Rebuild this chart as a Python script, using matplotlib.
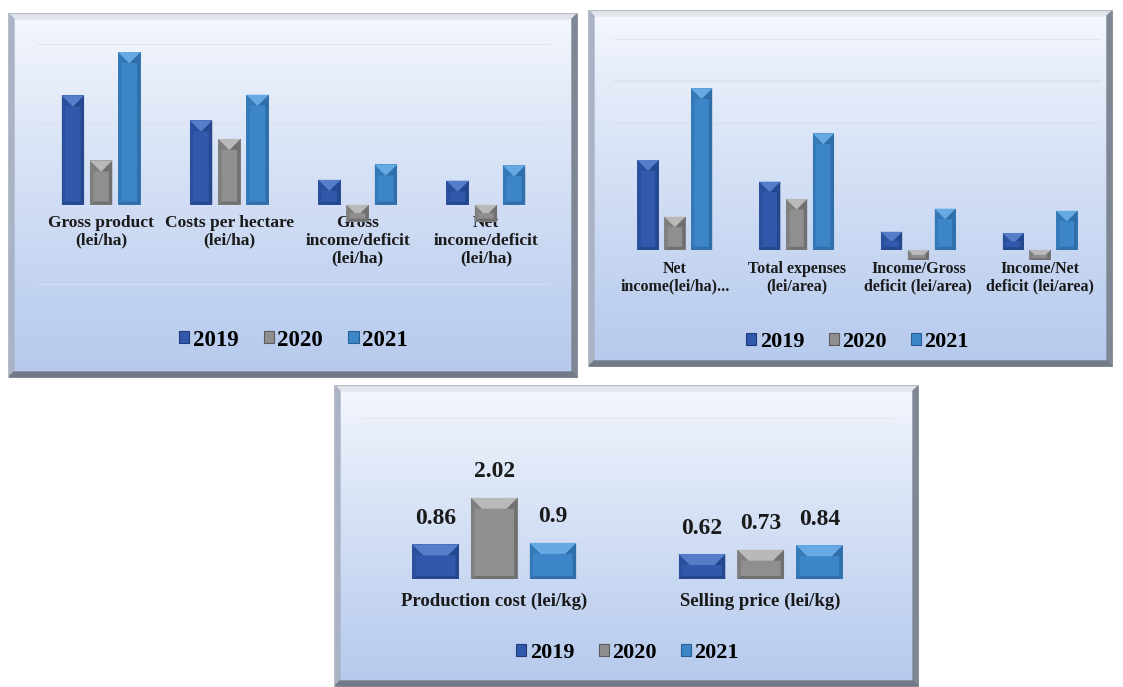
import numpy as np
import matplotlib
matplotlib.use("Agg")
import matplotlib.pyplot as plt
from matplotlib.patches import Polygon, Patch, Rectangle

plt.rcParams['font.family'] = ['Liberation Serif', 'DejaVu Serif']
plt.rcParams['font.weight'] = 'bold'

# ---- data ----
years = ['2019', '2020', '2021']

cats_ha = ['Gross product\n(lei/ha)', 'Costs per hectare\n(lei/ha)',
           'Gross\nincome/deficit\n(lei/ha)', 'Net\nincome/deficit\n(lei/ha)']
vals_ha_2019 = [6800, 5250, 1550, 1500]
vals_ha_2020 = [2750, 4100, -1050, -1050]
vals_ha_2021 = [9500, 6850, 2500, 2450]

cats_area = ['Net\nincome(lei/ha)...', 'Total expenses\n(lei/area)',
             'Income/Gross\ndeficit (lei/area)', 'Income/Net\ndeficit (lei/area)']
vals_area_2019 = [213000, 162000, 43000, 40000]
vals_area_2020 = [79000, 121000, -24000, -24000]
vals_area_2021 = [383000, 276000, 98000, 93000]

cats_kg = ['Production cost (lei/kg)', 'Selling price (lei/kg)']
vals_kg_2019 = [0.86, 0.62]
vals_kg_2020 = [2.02, 0.73]
vals_kg_2021 = [0.9, 0.84]

# colours: base, light, dark
colors = {
    '2019': ('#3059ab', '#5f88d2', '#1f3b7a'),
    '2020': ('#8f8f8f', '#c4c4c4', '#5c5c5c'),
    '2021': ('#3c86c8', '#72b4ea', '#275f95'),
}

W, H = 1123, 687
fig = plt.figure(figsize=(W / 100, H / 100), dpi=100)


def rect(x0, y0, x1, y1):
    return [x0 / W, 1 - y1 / H, (x1 - x0) / W, (y1 - y0) / H]


def panel_bg(frame):
    x0, y0, x1, y1 = frame
    fw, fh = x1 - x0, y1 - y0
    bg = fig.add_axes(rect(*frame))
    bg.set_xlim(0, fw)
    bg.set_ylim(fh, 0)
    grad = np.linspace(0, 1, 256).reshape(-1, 1)
    top = np.array([0.965, 0.975, 0.995])
    bot = np.array([0.71, 0.79, 0.93])
    img = top + (bot - top) * grad[:, :, None] ** 0.85
    bg.imshow(img, extent=(0, fw, fh, 0), aspect='auto', zorder=0)
    b = 6
    bg.add_patch(Polygon([(0, 0), (fw, 0), (fw - b, b), (b, b)], color='#e2e6ec', zorder=1))
    bg.add_patch(Polygon([(0, 0), (0, fh), (b, fh - b), (b, b)], color='#a9b3c5', zorder=1))
    bg.add_patch(Polygon([(fw, 0), (fw, fh), (fw - b, fh - b), (fw - b, b)], color='#7f8794', zorder=1))
    bg.add_patch(Polygon([(0, fh), (fw, fh), (fw - b, fh - b), (b, fh - b)], color='#737a87', zorder=1))
    bg.add_patch(Rectangle((0, 0), fw, fh, fill=False, ec='#b8bcc4', lw=1, zorder=2))
    bg.axis('off')
    return bg


def bevel(ax, p, cols, sx, sy):
    base, light, dark = cols
    x0 = p.get_x()
    w = p.get_width()
    x1 = x0 + w
    lo = min(p.get_y(), p.get_y() + p.get_height())
    hi = max(p.get_y(), p.get_y() + p.get_height())
    wpx, hpx = w * sx, (hi - lo) * sy
    d = min(11, wpx / 2, hpx / 2)
    s = min(3.5, wpx / 5)
    bb = min(3, hpx / 5)
    dx, T = d / sx, hi - d / sy
    ds, B = s / sx, lo + bb / sy
    z = 3.2
    ax.add_patch(Polygon([(x0, lo), (x0, hi), (x0 + dx, T), (x0 + ds, T), (x0 + ds, B)],
                         color=dark, alpha=0.3, lw=0, zorder=z))
    ax.add_patch(Polygon([(x1, lo), (x1, hi), (x1 - dx, T), (x1 - ds, T), (x1 - ds, B)],
                         color=dark, alpha=0.6, lw=0, zorder=z))
    ax.add_patch(Polygon([(x0, lo), (x1, lo), (x1 - ds, B), (x0 + ds, B)],
                         color=dark, alpha=0.6, lw=0, zorder=z))
    ax.add_patch(Polygon([(x0, hi), (x1, hi), (x1 - dx, T), (x0 + dx, T)],
                         color=light, alpha=0.8, lw=0, zorder=z))


def panel(frame, plot, cats, series, ylim, grid, lab_off, lab_size, leg_y, leg_size,
          value_labels=False):
    panel_bg(frame)
    ax = fig.add_axes(rect(*plot))
    ax.set_facecolor('none')
    n = len(cats)
    ax.set_xlim(-0.5, n - 0.5)
    ax.set_ylim(*ylim)
    sx = (plot[2] - plot[0]) / n
    sy = (plot[3] - plot[1]) / (ylim[1] - ylim[0])
    for g in grid:
        ax.axhline(g, color='#dce2ea', lw=1.1, zorder=1)
    x = np.arange(n)
    offs = [-0.22, 0, 0.22]
    for yr, vals, o in zip(years, series, offs):
        bars = ax.bar(x + o, vals, width=0.175, color=colors[yr][0], lw=0, zorder=3)
        for p in bars:
            bevel(ax, p, colors[yr], sx, sy)
        if value_labels:
            for xi, v in zip(x + o, vals):
                ax.annotate(f'{v:g}', (xi, v), xytext=(0, 11), textcoords='offset points',
                            ha='center', va='bottom', fontsize=17, fontweight='bold',
                            color='#1a1a1a', zorder=5)
    for xi, c in zip(x, cats):
        ax.annotate(c, (xi, 0), xytext=(0, -lab_off), textcoords='offset points',
                    ha='center', va='top', fontsize=lab_size, fontweight='bold',
                    color='#1a1a1a', linespacing=1.15, zorder=2)
    for sp in ax.spines.values():
        sp.set_visible(False)
    ax.set_xticks([])
    ax.set_yticks([])
    handles = [Patch(facecolor=colors[yr][0], edgecolor=colors[yr][2], lw=0.8) for yr in years]
    cx = (plot[0] + plot[2]) / 2
    fig.legend(handles, years, loc='center', bbox_to_anchor=(cx / W, 1 - leg_y / H),
               ncol=3, frameon=False, prop={'weight': 'bold', 'size': leg_size},
               handlelength=0.45, handleheight=0.45, handletextpad=0.15, columnspacing=1.1)
    return ax


panel((8, 13, 578, 378), (37, 44, 550, 285), cats_ha,
      [vals_ha_2019, vals_ha_2020, vals_ha_2021], (-5000, 10000), [-5000, 5000, 10000],
      7.5, 12.5, 340, 16.5)
panel((588, 10, 1113, 367), (614, 39, 1101, 292), cats_area,
      [vals_area_2019, vals_area_2020, vals_area_2021], (-100000, 500000),
      [200000, 300000, 400000, 500000],
      8, 11.5, 342, 16)
panel((334, 385, 919, 687), (361, 418, 894, 579), cats_kg,
      [vals_kg_2019, vals_kg_2020, vals_kg_2021], (0, 4), [2, 4],
      10, 13.5, 653, 16, value_labels=True)

fig.savefig('out.png', dpi=100)
